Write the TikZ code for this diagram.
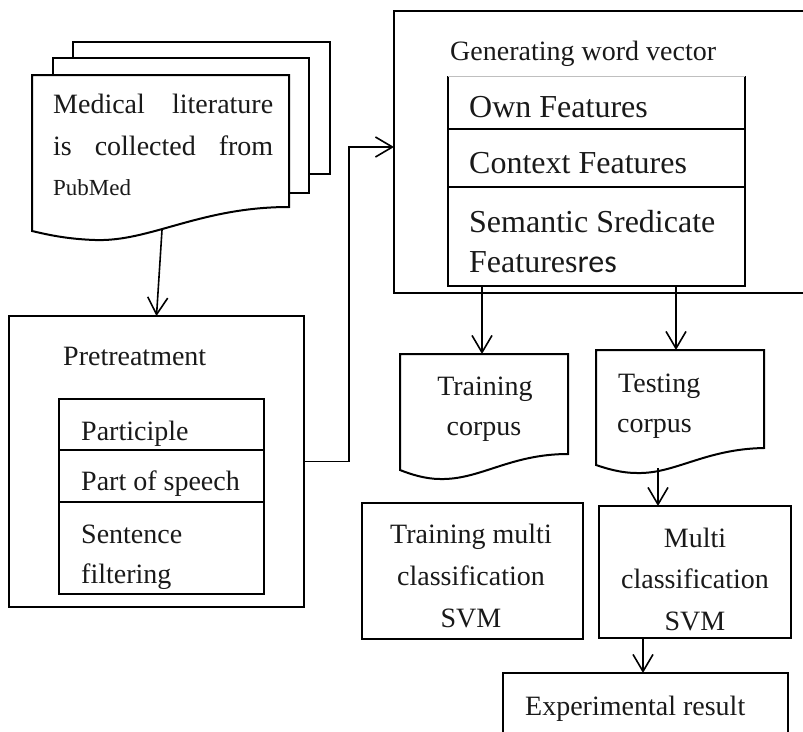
\documentclass[tikz,border=0pt]{standalone}
\usepackage{fontspec}
\setmainfont{Liberation Serif}
\newfontfamily\calfont{Carlito}
\usetikzlibrary{arrows.meta,calc}
\begin{document}
\begin{tikzpicture}[x=1pt,y=-1pt,
  ln/.style={line width=2pt, line join=miter},
  box/.style={draw, line width=2pt, rectangle, inner sep=0pt, outer sep=0pt},
  nobox/.style={rectangle, inner sep=0pt, outer sep=0pt},
  arr/.style={line width=1.6pt, -{Straight Barb[length=17pt,width=20pt,line width=1.6pt]}},
  txt/.style={inner sep=0pt, text=black!90, font=\fontsize{28}{34}\selectfont},
  ftxt/.style={inner sep=0pt, text=black!90, font=\fontsize{32}{38}\selectfont},
]
\useasboundingbox (0,0) rectangle (803,731);

% ---- document stack ----
\draw[ln] (73,58) -- (73,42) -- (330,42) -- (330,174) -- (309,174);
\draw[ln, fill=white] (53,75) -- (53,58) -- (309,58) -- (309,193) -- (289,193);
\draw[ln, fill=white] (32,75) -- (289,75) -- (289,207) .. controls (200,207) and (150,242) .. (95,240) .. controls (65,239) and (45,234) .. (32,231) -- cycle;
\coordinate (d1out) at (162,230);
\node[txt, anchor=base west] (m1) at (53,113) {\makebox[220pt][s]{Medical literature}};
\node[txt, anchor=base west] (m2) at (53,155) {\makebox[220pt][s]{is collected from}};
\node[inner sep=0pt, anchor=base west, text=black!90, font=\fontsize{23}{28}\selectfont] (m3) at (53,195) {PubMed};

% ---- pretreatment ----
\node[box, minimum width=295pt, minimum height=291pt] (pre) at (156.5,461.5) {};
\node[box, minimum width=205pt, minimum height=51pt] (pinA) at (161.5,424.5) {};
\node[box, minimum width=205pt, minimum height=52pt] (pinB) at (161.5,476) {};
\node[box, minimum width=205pt, minimum height=92pt] (pinC) at (161.5,548) {};
\node[txt, anchor=base west] (tpre) at (63,365) {Pretreatment};
\node[txt, anchor=base west] (tp1) at (81,440) {Participle};
\node[txt, anchor=base west] (tp2) at (81,490) {Part of speech};
\node[txt, anchor=base west] (tp3) at (81,543) {Sentence};
\node[txt, anchor=base west] (tp4) at (81,583) {filtering};

% ---- generating word vector ----
\node[box, minimum width=446pt, minimum height=282pt] (gen) at (617,152) {};
\node[nobox, minimum width=297pt, minimum height=53pt] (ownF) at (596.5,102.5) {};
\draw[ln] (ownF.north west) -- (ownF.south west) -- (ownF.south east) -- (ownF.north east);
\draw[gray!50, line width=0.8pt] (ownF.north west) -- (ownF.north east);
\node[box, minimum width=297pt, minimum height=58pt] (ctxF) at (596.5,158) {};
\node[box, minimum width=297pt, minimum height=99pt] (semF) at (596.5,236.5) {};
\node[txt, anchor=base west] (tgen) at (450,60) {Generating word vector};
\node[ftxt, anchor=base west] (tf1) at (469,117) {Own Features};
\node[ftxt, anchor=base west] (tf2) at (469,173) {Context Features};
\node[ftxt, anchor=base west] (tf3) at (469,232) {Semantic Sredicate};
\node[ftxt, anchor=base west] (tf4) at (469,272) {Features{\calfont res}};
\coordinate (genin) at (394,147);
\coordinate (bend) at (349,147);

% ---- corpora ----
\draw[ln] (400,354) -- (568,354) -- (568,454) .. controls (510,454) and (480,480) .. (440,479) .. controls (425,479) and (410,474) .. (400,470) -- cycle;
\draw[ln] (596,350) -- (764,350) -- (764,448) .. controls (705,449) and (675,474) .. (637,473) .. controls (620,473) and (605,468) .. (596,465) -- cycle;
\coordinate (trIn) at (482,354);
\coordinate (teIn) at (676,350);
\coordinate (teOut) at (658,468);
\node[txt, anchor=base] (ttr1) at (485,395) {Training};
\node[txt, anchor=base] (ttr2) at (484,435) {corpus};
\node[txt, anchor=base west] (tte1) at (618,392) {Testing};
\node[txt, anchor=base west] (tte2) at (617,432) {corpus};

% ---- SVM boxes ----
\node[box, minimum width=221pt, minimum height=136pt] (trm) at (472.5,571) {};
\node[box, minimum width=192pt, minimum height=132pt] (mcs) at (695,572) {};
\node[txt, anchor=base] (tt1) at (471,543) {Training multi};
\node[txt, anchor=base] (tt2) at (471,585) {classification};
\node[txt, anchor=base] (tt3) at (471,627) {SVM};
\node[txt, anchor=base] (tm1) at (695,547) {Multi};
\node[txt, anchor=base] (tm2) at (695,588) {classification};
\node[txt, anchor=base] (tm3) at (695,630) {SVM};
\coordinate (mOut) at (643,638);

% ---- experimental result ----
\node[box, minimum width=285pt, minimum height=87pt] (exp) at (645.5,716.5) {};
\node[txt, anchor=base west] (texp) at (525,715) {Experimental result};

% ---- connectors ----
\draw[arr] (d1out) -- (pre.north);
\draw[arr] (pre.east) -| (bend) -- (genin);
\draw[arr] (semF.south -| trIn) -- (trIn);
\draw[arr] (semF.south -| teIn) -- (teIn);
\draw[arr] (teOut) -- (teOut |- mcs.north);
\draw[arr] (mOut) -- (mOut |- exp.north);
\end{tikzpicture}
\end{document}
